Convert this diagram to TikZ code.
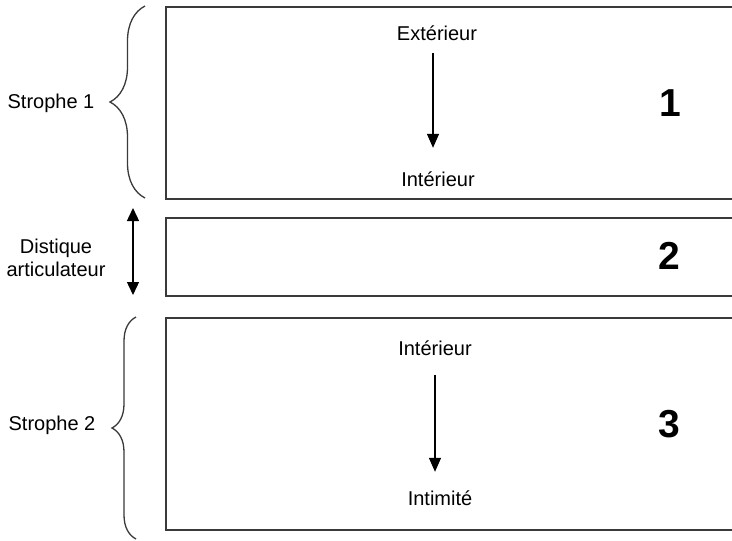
\documentclass[tikz,border=0pt]{standalone}
\usepackage{fontspec}
\setmainfont{Liberation Sans}
\usetikzlibrary{arrows.meta,decorations.pathreplacing}
\definecolor{frame}{HTML}{3A3A3A}
\begin{document}
\begin{tikzpicture}[x=1pt,y=-1pt,
  panel/.style={draw=frame,line width=2pt,anchor=north west,minimum width=620pt,inner sep=0pt},
  lbl/.style={font=\fontsize{20}{22}\selectfont,inner sep=0pt,text height=14pt,text depth=0pt,anchor=base},
  num/.style={font=\fontsize{39}{42}\selectfont\bfseries,inner sep=0pt,anchor=base},
  flow/.style={line width=1.4pt,-{Triangle[width=12pt,length=14pt]}},
  span/.style={line width=1.4pt,{Triangle[width=12pt,length=13pt]}-{Triangle[width=12pt,length=13pt]}},
  curly/.style={draw=frame,line width=1.3pt,decorate,decoration={brace,amplitude=#1}}]
\clip (0,0) rectangle (732,541);
\fill[white] (0,0) rectangle (732,541);

% three stacked panels, open to the right
\node[panel,minimum height=192pt] (b1) at (165,6) {};
\node[panel,minimum height=78pt] (b2) at (165,217) {};
\node[panel,minimum height=212pt] (b3) at (165,317) {};

% panel numbers
\node[num] (n1) at (670,116) {1};
\node[num] (n2) at (669,269) {2};
\node[num] (n3) at (669,437) {3};

% movement inside panel 1
\node[lbl] (ext) at (437,40) {Extérieur};
\node[lbl] (int1) at (438,186) {Intérieur};
\draw[flow,shorten <=13pt,shorten >=24pt] ([xshift=-4pt]ext.base) -- ([xshift=-5pt]int1.north);

% movement inside panel 3
\node[lbl] (int2) at (435,355) {Intérieur};
\node[lbl] (intim) at (440,505) {Intimité};
\draw[flow,shorten <=20pt,shorten >=19pt] (int2.base) -- ([xshift=-5pt]intim.north);

% left-hand labels
\node[lbl] (s1) at (51,108) {Strophe 1};
\node[lbl] (dist) at (56,253) {Distique};
\node[lbl] (artic) at (56,276) {articulateur};
\node[lbl] (s2) at (52,430) {Strophe 2};

% braces and the two-way arrow
\coordinate (br1a) at (145,198);
\coordinate (br1b) at (145,6);
\coordinate (br2a) at (136,539);
\coordinate (br2b) at (136,317);
\draw[curly=35pt] (br1a) -- (br1b);
\draw[curly=24pt] (br2a) -- (br2b);
\coordinate (dtop) at (133,208);
\coordinate (dbot) at (133,295);
\draw[span] (dtop) -- (dbot);
\end{tikzpicture}
\end{document}
